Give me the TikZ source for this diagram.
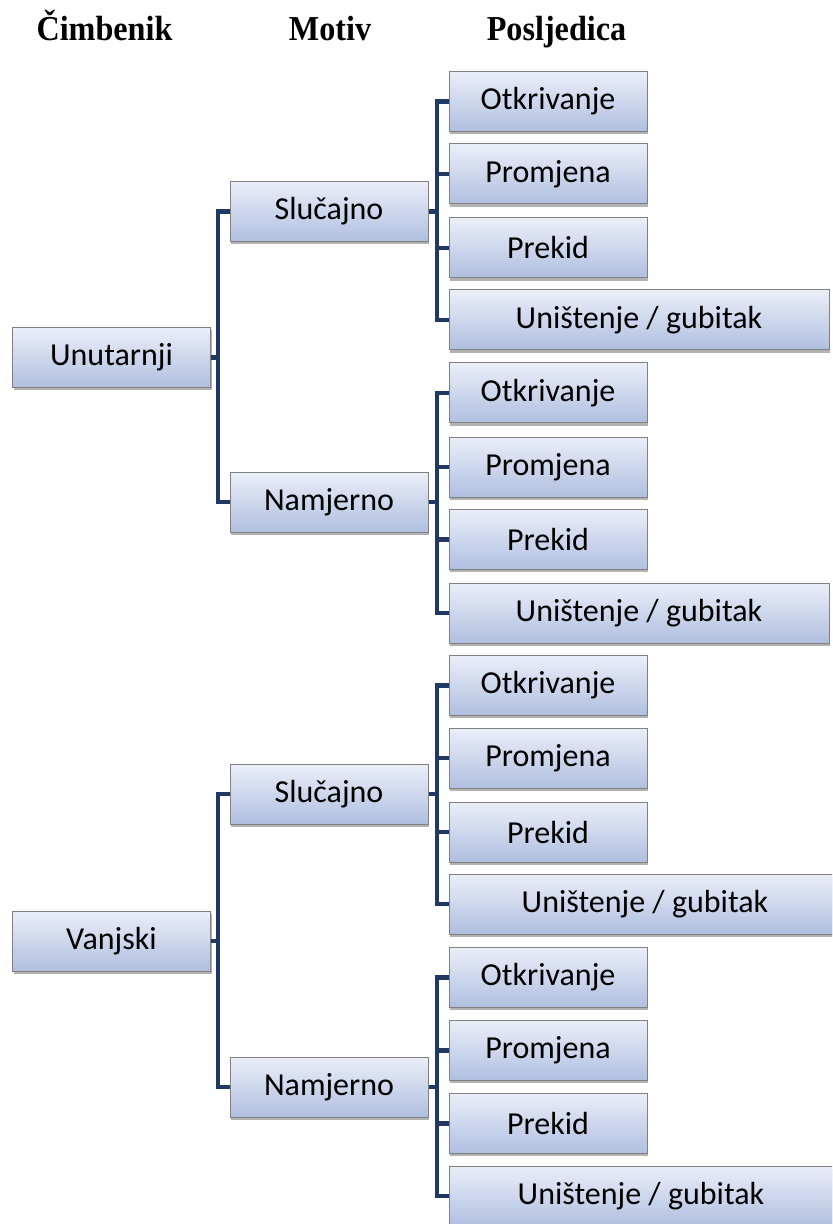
\documentclass[tikz,border=0pt]{standalone}
\usepackage{fontspec}
\setmainfont{Carlito}
\newfontfamily\headfont{Liberation Serif}
\usetikzlibrary{shadows}
\definecolor{busblue}{RGB}{31,56,100}
\definecolor{boxtop}{RGB}{234,238,248}
\definecolor{boxbot}{RGB}{176,191,224}
\definecolor{boxedge}{RGB}{128,128,128}
\tikzset{
  tbox/.style={draw=boxedge, line width=0.5pt, top color=boxtop, bottom color=boxbot,
    minimum height=30pt, minimum width=99pt, inner sep=0pt, font=\fontsize{16}{19}\selectfont,
    drop shadow={shadow xshift=0.6pt, shadow yshift=-1.4pt, fill=black, opacity=0.3}},
  widebox/.style={tbox, minimum width=190pt},
  head/.style={anchor=base, xscale=0.92, font=\headfont\bfseries\fontsize{17.5}{20}\selectfont},
  bus/.style={draw=busblue, line width=2.2pt, line join=miter}
}
\begin{document}
\begin{tikzpicture}[x=0.5pt, y=-0.5pt]
\useasboundingbox (0,0) rectangle (832,1224);
\begin{scope}
\clip (0,0) rectangle (832,1224);

% column headings
\node[head] (h1) at (104.5,41) {Čimbenik};
\node[head] (h2) at (330,41) {Motiv};
\node[head] (h3) at (556.5,41) {Posljedica};

% factors
\node[tbox] (f1) at (111.5,357.5) {Unutarnji};
\node[tbox] (f2) at (111.5,941) {Vanjski};

% motives
\node[tbox] (m1) at (329,211.5) {Slučajno};
\node[tbox] (m2) at (329,502) {Namjerno};
\node[tbox] (m3) at (329,794) {Slučajno};
\node[tbox] (m4) at (329,1087) {Namjerno};

% consequences, four per motive
\foreach \g/\ya/\yb/\yc/\yd/\wx in {1/101.5/174/248/320/639, 2/393/467/539.5/613/639,
    3/685.5/758/832/904/645, 4/977.5/1050.5/1123.5/1196/641}{
  \node[tbox] (c\g a) at (548,\ya) {Otkrivanje};
  \node[tbox] (c\g b) at (548,\yb) {Promjena};
  \node[tbox] (c\g c) at (548,\yc) {Prekid};
  \node[widebox, minimum width={(\wx-449)*1pt}] (c\g d) at (\wx,\yd) {Uništenje / gubitak};
}

% factor -> motive brackets
\foreach \f/\ma/\mb in {1/1/2, 2/3/4}{
  \draw[bus] (f\f.east) -- (218,0 |- f\f.east) |- (m\ma.west);
  \draw[bus] (f\f.east) -- (218,0 |- f\f.east) |- (m\mb.west);
}

% motive -> consequence brackets
\foreach \m in {1,2,3,4}{
  \foreach \k in {a,b,c,d}{
    \draw[bus] (m\m.east) -- (437,0 |- m\m.east) |- (c\m\k.west);
  }
}
\end{scope}
\end{tikzpicture}
\end{document}
